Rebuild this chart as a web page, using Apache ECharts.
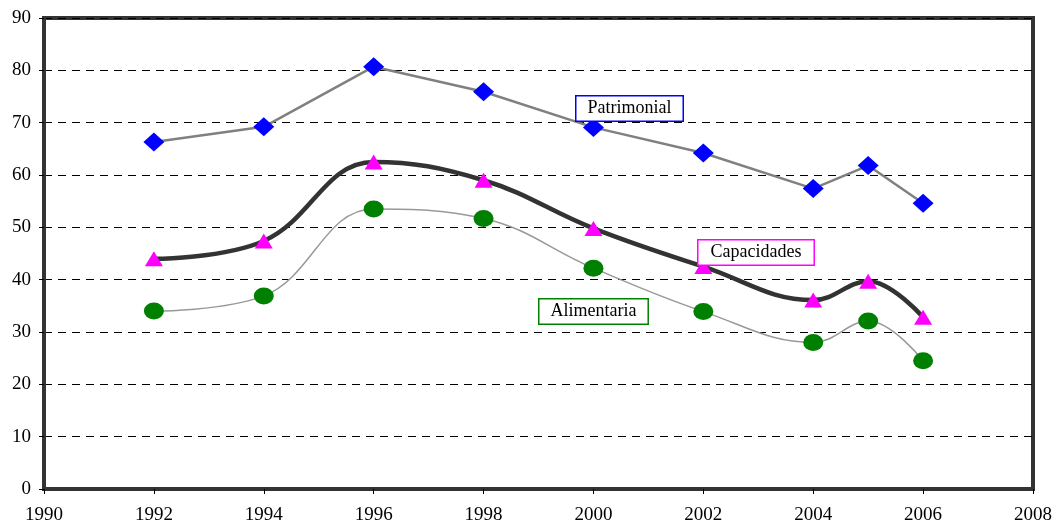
<!DOCTYPE html>
<html><head><meta charset="utf-8">
<script src="https://cdn.jsdelivr.net/npm/echarts@6/dist/echarts.min.js"></script>
<style>html,body{margin:0;padding:0;background:#fff}#c{width:1056px;height:525px}</style>
</head><body><div id="c"></div>
<script>
const years = [1992, 1994, 1996, 1998, 2000, 2002, 2004, 2005, 2006];
const patrimonial = [66.3, 69.2, 80.7, 75.9, 69.1, 64.2, 57.4, 61.8, 54.6];
const capacidades = [44.0, 47.4, 62.5, 59.0, 49.8, 42.5, 36.1, 39.7, 32.8];
const alimentaria = [34.0, 36.9, 53.5, 51.7, 42.2, 33.9, 28.0, 32.1, 24.5];
const seriesNames = ['Patrimonial', 'Capacidades', 'Alimentaria'];

const pairs = arr => years.map((y, i) => [y, arr[i]]);
const font = '"Liberation Serif", "DejaVu Serif", serif';
const chart = echarts.init(document.getElementById('c'), null, {renderer: 'canvas'});
chart.setOption({
  animation: false,
  backgroundColor: '#fff',
  grid: {left: 44, right: 23, top: 18, bottom: 36, show: true, borderColor: '#333', borderWidth: 4, containLabel: false},
  xAxis: {
    type: 'value', min: 1990, max: 2008, interval: 2,
    axisLine: {show: true, lineStyle: {color: '#333', width: 4}},
    axisTick: {show: true, length: 5, lineStyle: {color: '#000'}},
    axisLabel: {color: '#000', fontFamily: font, fontSize: 19, margin: 17, formatter: v => String(v)},
    splitLine: {show: false}
  },
  yAxis: {
    type: 'value', min: 0, max: 90, interval: 10,
    axisLine: {show: true, lineStyle: {color: '#333', width: 4}},
    axisTick: {show: true, length: 5, lineStyle: {color: '#000'}},
    axisLabel: {color: '#000', fontFamily: font, fontSize: 19, margin: 13},
    splitLine: {show: true, lineStyle: {color: '#000', type: [8, 6], width: 1}}
  },
  series: [
    {name: seriesNames[0], type: 'line', data: pairs(patrimonial), smooth: false,
     symbol: 'diamond', symbolSize: [21, 19], itemStyle: {color: '#0000FF'},
     lineStyle: {color: '#808080', width: 2.5}, z: 3},
    {name: seriesNames[1], type: 'line', data: pairs(capacidades), smooth: 0.4,
     symbol: 'triangle', symbolSize: [18, 15], itemStyle: {color: '#FF00FF'},
     lineStyle: {color: '#333333', width: 4.5}, z: 3},
    {name: seriesNames[2], type: 'line', data: pairs(alimentaria), smooth: 0.4,
     symbol: 'circle', symbolSize: [20, 17], itemStyle: {color: '#008000'},
     lineStyle: {color: '#999999', width: 1.5}, z: 3}
  ],
  graphic: [
    {type: 'text', left: 575, top: 95, z: 10, style: {text: seriesNames[0], font: '18px ' + font, fill: '#000',
      backgroundColor: '#fff', borderColor: '#0000FF', borderWidth: 1.5, padding: [3, 11, 3, 11]}},
    {type: 'text', left: 697, top: 239, z: 10, style: {text: seriesNames[1], font: '18px ' + font, fill: '#000',
      backgroundColor: '#fff', borderColor: '#FF00FF', borderWidth: 1.5, padding: [3, 12, 3, 12]}},
    {type: 'text', left: 538, top: 298, z: 10, style: {text: seriesNames[2], font: '18px ' + font, fill: '#000',
      backgroundColor: '#fff', borderColor: '#008000', borderWidth: 1.5, padding: [3, 11, 3, 11]}}
  ]
});
</script></body></html>
